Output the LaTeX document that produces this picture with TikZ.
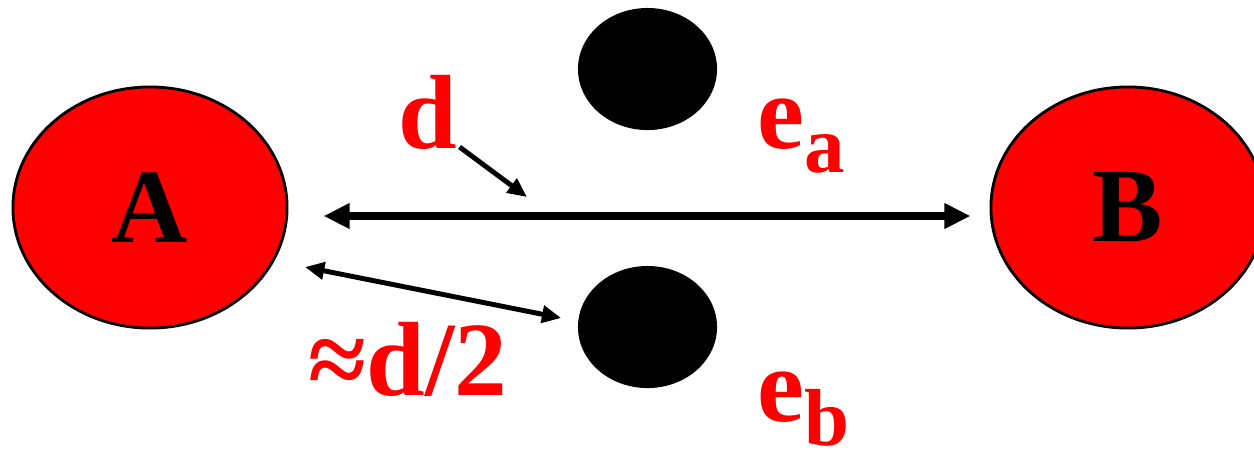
\documentclass[tikz,border=0pt]{standalone}
\usepackage{fontspec}
\setmainfont{Liberation Serif}[BoldFont={Liberation Serif Bold}]
\usetikzlibrary{arrows.meta,positioning,shapes.geometric,calc}
\definecolor{ballred}{RGB}{255,0,0}

\begin{document}
\begin{tikzpicture}[
  x=0.01cm, y=-0.01cm,
  ball/.style={ellipse, draw, line width=0.8pt, fill=ballred, minimum width=2.74cm, minimum height=2.41cm, inner sep=0pt, font=\fontsize{30}{36}\selectfont\bfseries},
  dot/.style={ellipse, fill=black, minimum width=1.39cm, minimum height=1.22cm, inner sep=0pt},
  lbl/.style={anchor=base west, inner sep=0pt, text=ballred, font=\fontsize{30}{36}\selectfont\bfseries},
  thin tip/.style={>={Triangle[length=5.5pt, width=4.8pt]}},
  >={Triangle[length=7.4pt, width=6.8pt]}
]
\useasboundingbox (0,0) rectangle (1254,450);
\node[ball] (A) at (150,207.5) {A};
\node[ball] (B) at (1128,207.5) {B};
\node[dot] (ea) at (647.5,69) {};
\node[dot] (eb) at (647.5,327) {};
\node[lbl] (d) at (398,148) {d};
\node[lbl] (ealbl) at (757,148) {e\raisebox{-7pt}{\fontsize{23}{23}\selectfont a}};
\node[lbl] (eblbl) at (757,421) {e\raisebox{-7pt}{\fontsize{23}{23}\selectfont b}};
\node[lbl] (half) at (308,395) {≈d/2};
\coordinate (dtip) at (527,197);
\coordinate (halfend) at (305,267);
\draw[<->, line width=2.2pt] ($(A.east)+(35,8.5)$) -- ($(B.west)+(-19,8.5)$);
\draw[->, thin tip, line width=1.4pt] ($(d.base east)+(1.5,-1)$) -- (dtip);
\draw[<->, thin tip, line width=1.4pt] (halfend) -- ($(eb.west)+(-16,-9)$);
\end{tikzpicture}
\end{document}
